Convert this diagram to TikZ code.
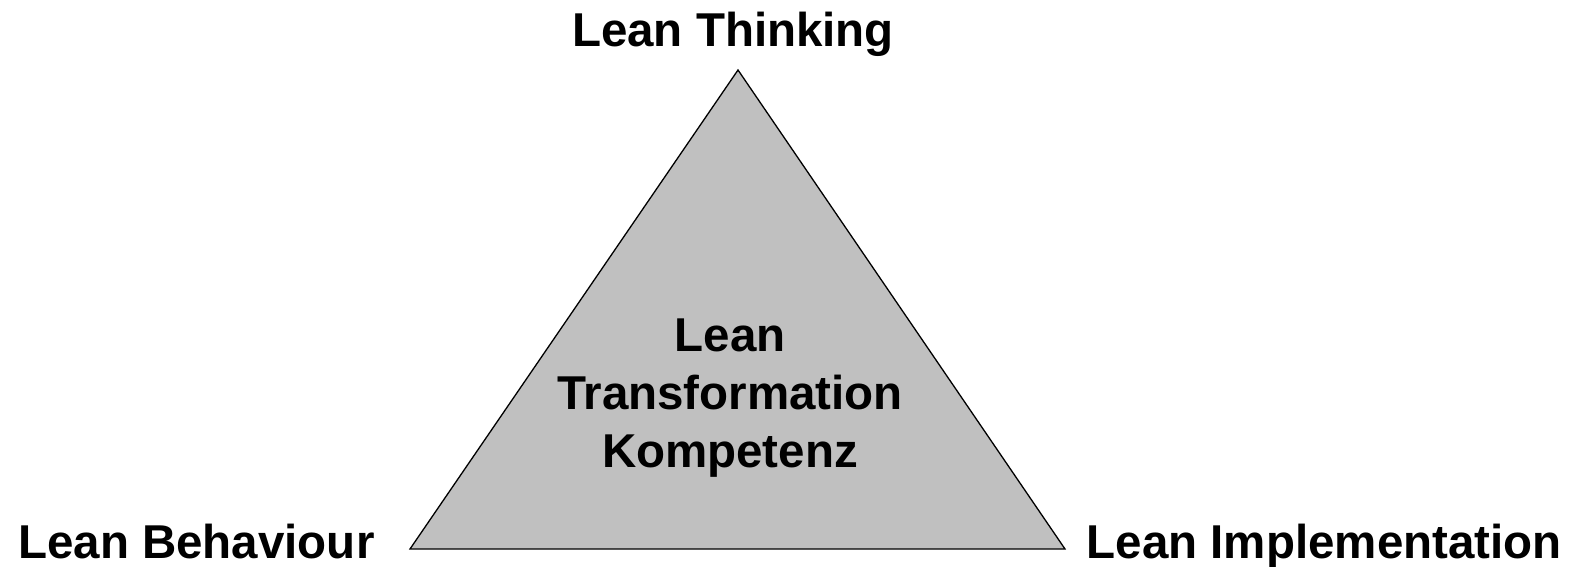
\documentclass[tikz,border=0pt]{standalone}
\usepackage{fontspec}
\setmainfont{Liberation Sans}
\definecolor{tri}{HTML}{C0C0C0}

\begin{document}
\begin{tikzpicture}[x=1pt,y=1pt,
        lbl/.style={font=\bfseries\fontsize{47.5}{58}\selectfont,inner sep=0pt}]
        \useasboundingbox (0,0) rectangle (1575,-567);
        \coordinate (top) at (738,-70);
        \coordinate (left) at (410,-549);
        \coordinate (right) at (1065,-549);
        \draw[fill=tri,line width=1.3pt,line join=miter] (top) -- (left) -- (right) -- cycle;
        \node[lbl,anchor=base] (think) at (733,-47) {Lean Thinking};
        \node[lbl,anchor=base west] (behav) at (18,-558) {Lean Behaviour};
        \node[lbl,anchor=base east] (impl) at (1562,-558) {Lean Implementation};
        \node[lbl,align=center] (comp) at (730,-398) {Lean \\ Transformation \\ Kompetenz};
\end{tikzpicture}
\end{document}
